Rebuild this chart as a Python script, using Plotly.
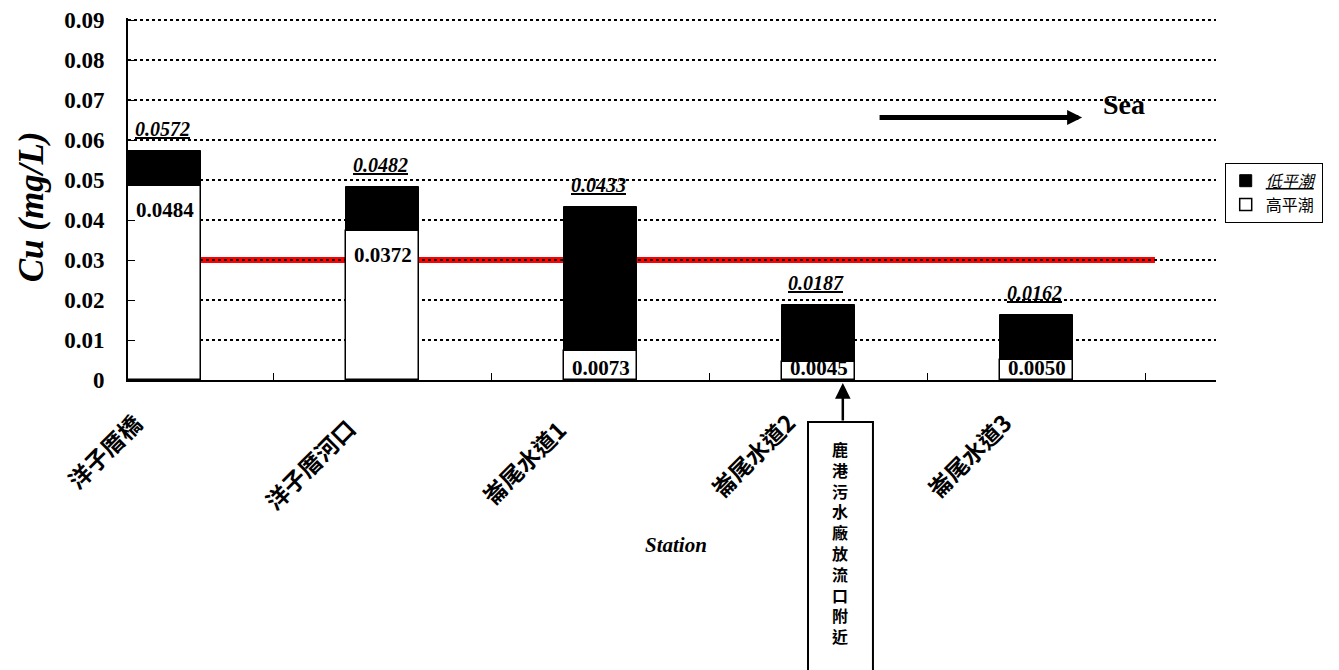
import plotly.graph_objects as go

# ---------------- data ----------------
stations = ["洋子厝橋", "洋子厝河口", "崙尾水道1", "崙尾水道2", "崙尾水道3"]
low_tide = [0.0572, 0.0482, 0.0433, 0.0187, 0.0162]    # 低平潮
high_tide = [0.0484, 0.0372, 0.0073, 0.0045, 0.0050]   # 高平潮
standard = 0.03
y_ticks = [0, 0.01, 0.02, 0.03, 0.04, 0.05, 0.06, 0.07, 0.08, 0.09]
y_tick_text = ["0", "0.01", "0.02", "0.03", "0.04", "0.05", "0.06", "0.07", "0.08", "0.09"]
outfall_note = "鹿港污水廠放流口附近"

# ---------------- layout helpers ----------------
x_pos = list(range(len(stations)))
bar_w = 0.335
label_x = [-0.022, 0.167, 0.364, 0.574, 0.773]     # paper coords of rotated labels
label_y = [-0.196, -0.232, -0.227, -0.207, -0.207]
SERIF = "Liberation Serif, Times New Roman, serif"
CJK = "Noto Sans CJK TC, Noto Sans CJK SC, sans-serif"
PLOT_H = 362.0

fig = go.Figure()
fig.add_trace(go.Bar(
    x=x_pos, y=low_tide, width=bar_w, name="<i><u>低平潮</u></i>",
    marker=dict(color="black", line=dict(color="black", width=1)),
))
fig.add_trace(go.Bar(
    x=x_pos, y=high_tide, width=bar_w, name="高平潮",
    marker=dict(color="white", line=dict(color="black", width=1.5)),
))

# standard line (red), drawn beneath gridlines
fig.add_shape(type="line", xref="x", yref="y", x0=-0.185, x1=4.543,
              y0=standard, y1=standard, line=dict(color="#ff0000", width=6),
              layer="below")

annotations = []
for i, v in enumerate(low_tide):
    annotations.append(dict(x=x_pos[i] - 0.01, y=v, xref="x", yref="y", yshift=22,
                            text=f"<i><u>{v:.4f}</u></i>", showarrow=False,
                            font=dict(family=SERIF, size=20, color="black", weight="bold"),
                            xanchor="center", yanchor="middle"))
for i, v in enumerate(high_tide):
    annotations.append(dict(x=x_pos[i], y=max(v - 0.006, 0.003), xref="x", yref="y",
                            text=f"{v:.4f}", showarrow=False,
                            font=dict(family=SERIF, size=21, color="black", weight="bold"),
                            xanchor="center", yanchor="middle"))
for i, s in enumerate(stations):
    annotations.append(dict(x=label_x[i], y=label_y[i], xref="paper", yref="paper",
                            text=s, showarrow=False, textangle=-45,
                            font=dict(family=CJK, size=23, color="black", weight="bold"),
                            xanchor="center", yanchor="middle"))
# axis titles
annotations.append(dict(x=0.5037, y=-0.456, xref="paper", yref="paper",
                        text="<i>Station</i>", showarrow=False,
                        font=dict(family=SERIF, size=21, color="black", weight="bold"),
                        xanchor="center", yanchor="middle"))
annotations.append(dict(x=-0.088, y=0.478, xref="paper", yref="paper",
                        text="<i>Cu (mg/L)</i>", showarrow=False, textangle=-90,
                        font=dict(family=SERIF, size=35, color="black", weight="bold"),
                        xanchor="center", yanchor="middle"))
# Sea arrow
annotations.append(dict(x=4.209, y=0.0656, xref="x", yref="y", ax=3.273, ay=0.0656,
                        axref="x", ayref="y", text="", showarrow=True,
                        arrowhead=2, arrowwidth=5, arrowsize=0.6, arrowcolor="black"))
annotations.append(dict(x=4.4, y=0.0689, xref="x", yref="y", text="Sea",
                        showarrow=False, xanchor="center", yanchor="middle",
                        font=dict(family=SERIF, size=28, color="black", weight="bold")))
# outfall note box + arrow
fig.add_shape(type="rect", xref="paper", yref="paper", x0=0.625, x1=0.6847,
              y0=-0.116, y1=-0.95, line=dict(color="black", width=2), fillcolor="white")
annotations.append(dict(x=0.657, y=-0.0083, xref="paper", yref="paper", ax=0, ay=39,
                        text="", showarrow=True, arrowhead=2, arrowwidth=2.5,
                        arrowsize=1.25, arrowcolor="black"))
annotations.append(dict(x=0.654, y=-(445 - 380 - 10) / PLOT_H, xref="paper", yref="paper",
                        text="<br>".join(outfall_note), showarrow=False,
                        font=dict(family=CJK, size=16, color="black", weight="bold"),
                        xanchor="center", yanchor="top"))

fig.update_layout(
    width=1331, height=662,
    margin=dict(l=120, r=123, t=10, b=290),
    paper_bgcolor="white", plot_bgcolor="rgba(0,0,0,0)",
    barmode="overlay", bargap=0,
    annotations=annotations,
    showlegend=True,
    legend=dict(x=1.008, y=0.6, xanchor="left", yanchor="top",
                bordercolor="black", borderwidth=1, bgcolor="white",
                font=dict(family=CJK, size=16, color="black"),
                itemwidth=30, tracegroupgap=0),
    xaxis=dict(range=[-0.1674, 4.823], showgrid=False, zeroline=False, automargin=False,
               showline=True, linecolor="black", linewidth=2,
               tickvals=[0.5, 1.5, 2.5, 3.5, 4.5], ticks="inside", ticklen=7,
               tickcolor="black", tickwidth=1, showticklabels=False),
    yaxis=dict(range=[0, 0.0905], tickvals=y_ticks, ticktext=y_tick_text, automargin=False,
               showgrid=True, gridcolor="black", gridwidth=2, griddash="dot",
               zeroline=False, showline=True, linecolor="black", linewidth=2,
               ticks="inside", ticklen=7, tickcolor="black", tickwidth=1,
               ticklabelstandoff=17,
               tickfont=dict(family=SERIF, size=23, color="black", weight="bold")),
)
fig.write_html("out.html")
